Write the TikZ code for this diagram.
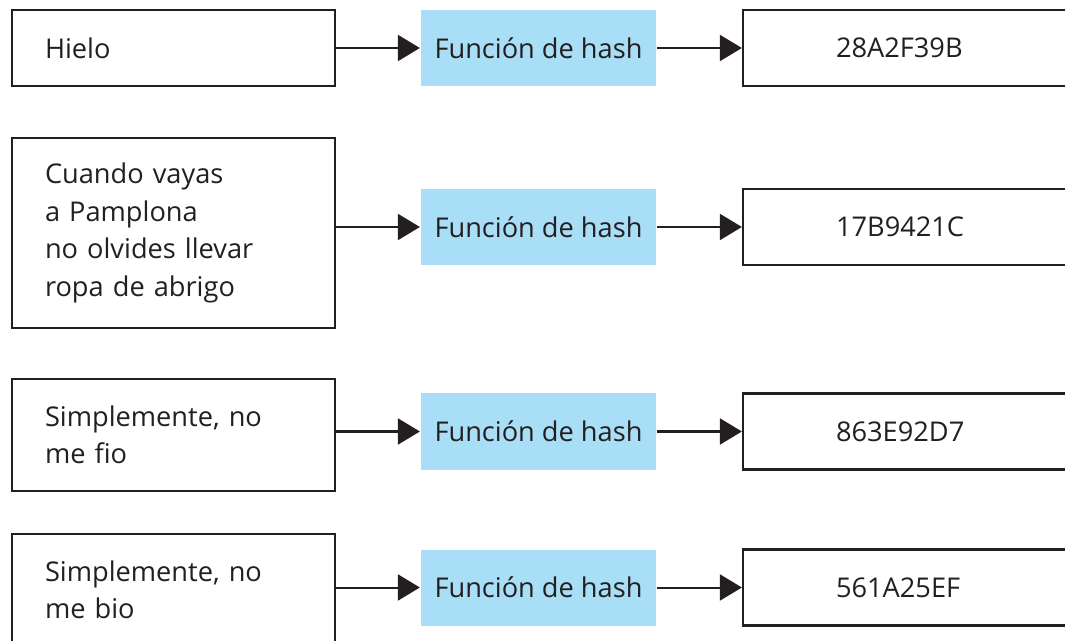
\documentclass[tikz,border=0pt]{standalone}
\usepackage{fontspec}
\setmainfont{Open Sans}
\usetikzlibrary{arrows.meta}
\definecolor{hashblue}{HTML}{A8DEF6}
\definecolor{ink}{HTML}{231F20}

\begin{document}
\begin{tikzpicture}[x=0.5pt, y=-0.5pt, line width=1.1pt, draw=ink,
    font=\fontsize{13.6}{18.75}\selectfont, text=ink,
    msgbox/.style={draw, align=left, text width=128.5pt, inner xsep=16.5pt, inner ysep=0pt},
    hashbox/.style={fill=hashblue, minimum width=117.5pt, minimum height=38pt, inner sep=0pt},
    outbox/.style={draw, align=left, text width=77pt, inner xsep=46.5pt, inner ysep=0pt,
        minimum height=38pt},
    flecha/.style={-{Triangle[length=11pt,width=13pt]}, line width=1pt}]
\useasboundingbox (0,0) rectangle (1065,641);

% mensajes
\node[msgbox, minimum height=38pt] (m1) at (173.5,48) {Hielo};
\node[msgbox, minimum height=95pt] (m2) at (173.5,233) {Cuando vayas\\a Pamplona\\no olvides llevar\\ropa de abrigo};
\node[msgbox, minimum height=56pt] (m3) at (173.5,435) {Simplemente, no\\me fio};
\node[msgbox, minimum height=56pt] (m4) at (173.5,590) {Simplemente, no\\me bio};

% funciones de hash
\node[hashbox] (f1) at (538.5,48) {Función de hash};
\node[hashbox] (f2) at (538.5,227) {Función de hash};
\node[hashbox] (f3) at (538.5,431.5) {Función de hash};
\node[hashbox] (f4) at (538.5,587.5) {Función de hash};

% resultados
\node[outbox] (h1) at (913,48) {28A2F39B};
\node[outbox] (h2) at (913,227) {17B9421C};
\node[outbox] (h3) at (913,431.5) {863E92D7};
\node[outbox] (h4) at (913,587.5) {561A25EF};

\foreach \i in {1,...,4}{
  \draw[flecha] (m\i.east |- f\i.west) -- (f\i.west);
  \draw[flecha] (f\i.east) -- (h\i.west);
}
\end{tikzpicture}
\end{document}
